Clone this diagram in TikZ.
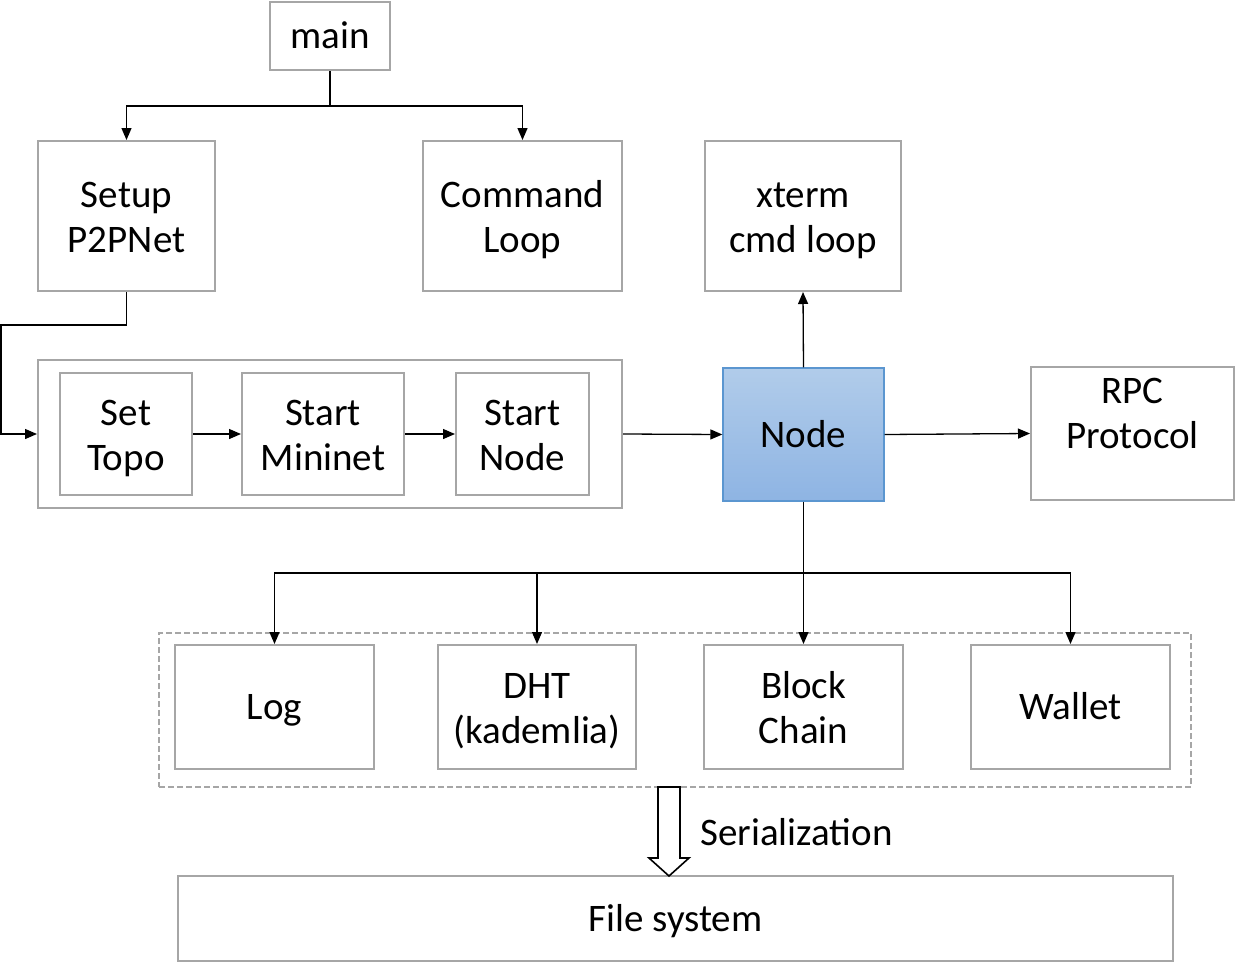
\documentclass[tikz,border=0pt]{standalone}
\usepackage{fontspec}
\setmainfont{Carlito}
\usetikzlibrary{arrows.meta,calc}
\definecolor{boxgray}{HTML}{A6A6A6}
\definecolor{nodetop}{HTML}{B1CCEA}
\definecolor{nodebot}{HTML}{8EB4E3}
\definecolor{nodeborder}{HTML}{5B96D0}
\begin{document}
\begin{tikzpicture}[x=1pt,y=-1pt,
  box/.style={draw=boxgray, line width=2pt, align=center, inner sep=0pt, font=\fontsize{39}{45}\selectfont},
  oneline/.style={text height=25pt, text depth=0pt},
  twoline/.style={text height=73pt, text depth=0pt},
  arr/.style={draw=black, line width=1.3pt, -{Triangle[length=12pt,width=10pt]}},
  conn/.style={draw=black, line width=1.3pt},
  lbl/.style={font=\fontsize{39}{45}\selectfont, inner sep=0pt}]
\useasboundingbox (0,0) rectangle (1235,964);
\fill[white] (0,0) rectangle (1235,964);
% boxes
\node[box, oneline, minimum width=120pt, minimum height=68pt] (main) at (330,36) {main};
\node[box, twoline, minimum width=177pt, minimum height=150pt] (setup) at (126.5,216) {Setup\\P2PNet};
\node[box, twoline, minimum width=199pt, minimum height=150pt] (cmd) at (522.5,216) {Command\\Loop};
\node[box, twoline, minimum width=196pt, minimum height=150pt] (xterm) at (803,216) {xterm\\cmd loop};
\node[box, minimum width=584pt, minimum height=148pt] (group) at (330,434) {};
\node[box, twoline, minimum width=132pt, minimum height=122pt] (settopo) at (126,434) {Set\\Topo};
\node[box, twoline, minimum width=162pt, minimum height=122pt] (startmn) at (323,434) {Start\\Mininet};
\node[box, twoline, minimum width=133pt, minimum height=122pt] (startnode) at (522.5,434) {Start\\Node};
\node[box, oneline, draw=nodeborder, line width=1.3pt, top color=nodetop, bottom color=nodebot, minimum width=161pt, minimum height=133pt] (node) at (803.5,434.5) {Node};
\node[box, minimum width=203pt, minimum height=133pt] (rpc) at (1132.5,433.5) {};
\node[lbl, twoline, align=center] (rpctext) at (1132.5,412) {RPC\\Protocol};
\node[box, dash pattern=on 6pt off 3pt, line width=1.6pt, minimum width=1032pt, minimum height=154pt] (storage) at (675,710) {};
\node[box, oneline, minimum width=199pt, minimum height=124pt] (log) at (274.5,707) {Log};
\node[box, twoline, minimum width=198pt, minimum height=124pt] (dht) at (537,707) {DHT\\(kademlia)};
\node[box, twoline, minimum width=199pt, minimum height=124pt] (block) at (803.5,707) {Block\\Chain};
\node[box, oneline, minimum width=199pt, minimum height=124pt] (wallet) at (1070.5,707) {Wallet};
\node[box, oneline, minimum width=995pt, minimum height=85pt] (fs) at (675.5,918.5) {File system};
% connectors
\coordinate (split1) at (330,106);
\draw[conn] (main.south) -- (split1);
\draw[arr] (split1) -| (setup.north);
\draw[arr] (split1) -| (cmd.north);
\coordinate (bend1) at (1,325);
\draw[arr] (setup.south) |- (bend1) |- (group.west);
\draw[arr] (settopo.east) -- (startmn.west);
\draw[arr] (startmn.east) -- (startnode.west);
\draw[arr] (group.east) -- (node.west);
\draw[arr] (node.north) -- (xterm.south);
\draw[arr] (node.east) -- (rpc.west);
\coordinate (split2) at (803.5,573);
\draw[conn] (node.south) -- (split2);
\draw[arr] (split2) -| (log.north);
\draw[arr] (split2) -| (dht.north);
\draw[arr] (split2) -- (block.north);
\draw[arr] (split2) -| (wallet.north);
% serialization block arrow
\coordinate (sa) at (669,787);
\coordinate (sb) at (669,876);
\draw[line width=1.6pt, fill=white, line join=miter]
  ($(sa)+(-11,0)$) -- ($(sa)+(11,0)$) -- ($(sb)+(11,-18)$) -- ($(sb)+(20,-18)$) -- (sb)
  -- ($(sb)+(-20,-18)$) -- ($(sb)+(-11,-18)$) -- cycle;
\node[lbl, oneline, anchor=west] (ser) at (700,833) {Serialization};
\end{tikzpicture}
\end{document}
